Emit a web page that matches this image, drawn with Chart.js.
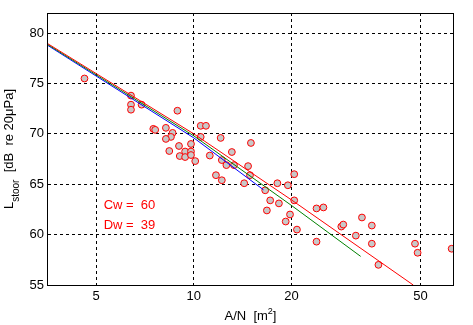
<!DOCTYPE html>
<html>
<head>
<meta charset="utf-8">
<script src="https://cdn.jsdelivr.net/npm/chart.js@4.4.1/dist/chart.umd.min.js"></script>
<style>
  html, body { margin: 0; padding: 0; background: #fff; }
</style>
</head>
<body>
<canvas id="chart" width="473" height="325"></canvas>
<script>
// ---------- measured doors: area per element vs level ----------
const areaN = [
  4.6, 6.4, 6.4, 6.4, 6.9, 7.5, 7.6, 8.9, 8.2, 8.6,
  8.5, 8.2, 10.5, 10.9, 10.5, 12.1, 15.0, 8.4, 9.0, 9.8,
  9.4, 9.8, 9.05, 9.4, 9.8, 11.2, 10.1, 12.2, 13.1, 12.6,
  13.3, 14.7, 11.7, 12.2, 14.3, 14.9, 16.6, 17.2, 16.8, 18.1,
  19.5, 18.3, 20.4, 20.4, 19.8, 19.2, 20.8, 23.9, 25.1, 23.9,
  28.5, 28.9, 33.0, 35.4, 31.6, 35.4, 37.1, 48.1, 49.0, 62.4
];
const lStoor = [
  75.5, 73.8, 72.9, 72.4, 72.9, 70.5, 70.4, 72.3, 70.6, 70.1,
  69.7, 69.5, 70.8, 70.8, 69.7, 69.6, 69.1, 68.3, 68.8, 69.0,
  68.25, 68.25, 67.8, 67.7, 67.9, 67.85, 67.3, 67.4, 68.2, 66.9,
  66.9, 66.8, 65.9, 65.4, 65.1, 65.9, 64.4, 63.4, 62.4, 65.1,
  64.9, 63.1, 66.0, 63.4, 62.0, 61.3, 60.5, 62.6, 62.7, 59.3,
  60.8, 61.0, 61.7, 60.9, 59.9, 59.1, 57.0, 59.1, 58.2, 58.6
];

// ---------- fitted curves ----------
const redX = [3.55, 10, 20, 47.5];
const redY = [78.94, 70.0, 63.45, 55.0];
const greenX = [3.55, 10, 20, 32.7];
const greenY = [78.85, 69.8, 62.9, 57.84];
const blueX = [3.55, 10, 16.4];
const blueY = [78.77, 69.6, 64.45];

// ---------- axes ----------
const xTicks = [5, 10, 20, 50];
const yTicks = [55, 60, 65, 70, 75, 80];
const xMin = 3.55, xMax = 63;
const yMin = 55, yMax = 82;

// ---------- annotation ----------
const noteLines = ['Cw =  60', 'Dw =  39'];
const noteX = 5.27;
const noteY = [62.57, 60.58];

const FONT = "Arial, 'Liberation Sans', sans-serif";
const INK = '#000';

const toPts = (xs, ys) => xs.map((x, i) => ({ x, y: ys[i] }));

function curve(xs, ys, color) {
  return {
    data: toPts(xs, ys),
    showLine: true,
    borderColor: color,
    borderWidth: 1,
    pointRadius: 0,
    tension: 0,
    fill: false
  };
}

// draw a run of text pieces (sizes / baseline shifts) centred on x
function drawRich(ctx, parts, x, y) {
  let w = 0;
  parts.forEach(p => {
    ctx.font = p.size + 'px ' + FONT;
    p.w = ctx.measureText(p.text).width;
    w += p.w;
  });
  let cx = x - w / 2;
  parts.forEach(p => {
    ctx.font = p.size + 'px ' + FONT;
    ctx.fillText(p.text, cx, y + (p.dy || 0));
    cx += p.w;
  });
}

const decorPlugin = {
  id: 'decor',
  afterDatasetsDraw(chart) {
    const { ctx, chartArea: a, scales } = chart;
    ctx.save();

    // box round the plot
    ctx.strokeStyle = '#000';
    ctx.lineWidth = 1;
    ctx.setLineDash([]);
    ctx.strokeRect(Math.floor(a.left) - 0.5, Math.floor(a.top) + 0.5,
      Math.round(a.right - a.left) + 1, Math.round(a.bottom - a.top));

    // Cw / Dw note
    ctx.fillStyle = '#ff0000';
    ctx.font = '13px ' + FONT;
    ctx.textAlign = 'left';
    ctx.textBaseline = 'alphabetic';
    noteLines.forEach((t, i) => {
      ctx.fillText(t, scales.x.getPixelForValue(noteX), scales.y.getPixelForValue(noteY[i]));
    });
    ctx.restore();
  },
  afterDraw(chart) {
    const { ctx, chartArea: a } = chart;
    ctx.save();
    ctx.fillStyle = INK;
    ctx.textAlign = 'left';
    ctx.textBaseline = 'alphabetic';

    // x title: A/N [m2]
    drawRich(ctx, [
      { text: 'A/N  [m', size: 13 },
      { text: '2', size: 9, dy: -6 },
      { text: ']', size: 13 }
    ], (a.left + a.right) / 2, 320);

    // y title: Lstoor [dB re 20µPa]
    ctx.translate(13, (a.top + a.bottom) / 2);
    ctx.rotate(-Math.PI / 2);
    drawRich(ctx, [
      { text: 'L', size: 13 },
      { text: 'stoor', size: 10, dy: 6 },
      { text: '  [dB  re 20μPa]', size: 13 }
    ], 0, 0);
    ctx.restore();
  }
};

new Chart(document.getElementById('chart'), {
  type: 'scatter',
  data: {
    datasets: [
      curve(redX, redY, '#ff0000'),
      curve(greenX, greenY, '#008000'),
      curve(blueX, blueY, '#0000ff'),
      {
        data: toPts(areaN, lStoor),
        pointRadius: 3.4,
        pointBorderWidth: 1,
        pointBackgroundColor: '#c8c8c8',
        pointBorderColor: '#ff0000'
      }
    ]
  },
  options: {
    responsive: false,
    animation: false,
    layout: { padding: { top: 13, right: 20, left: 0, bottom: 0 } },
    plugins: {
      legend: { display: false },
      tooltip: { enabled: false }
    },
    scales: {
      x: {
        type: 'logarithmic',
        min: xMin,
        max: xMax,
        afterBuildTicks: s => { s.ticks = xTicks.map(v => ({ value: v })); },
        afterFit: s => { s.height = 40; },
        grid: { color: '#000', lineWidth: 1, drawTicks: false },
        border: { display: false, dash: [3, 3] },
        ticks: {
          callback: v => String(v),
          color: INK,
          font: { family: FONT, size: 13 },
          padding: 4,
          maxRotation: 0,
          autoSkip: false
        }
      },
      y: {
        type: 'linear',
        min: yMin,
        max: yMax,
        afterBuildTicks: s => { s.ticks = yTicks.map(v => ({ value: v })); },
        afterFit: s => { s.width = 48; },
        grid: { color: '#000', lineWidth: 1, drawTicks: false },
        border: { display: false, dash: [3, 3] },
        ticks: {
          callback: v => String(v),
          color: INK,
          font: { family: FONT, size: 13 },
          padding: 4
        }
      }
    }
  },
  plugins: [decorPlugin]
});
</script>
</body>
</html>
